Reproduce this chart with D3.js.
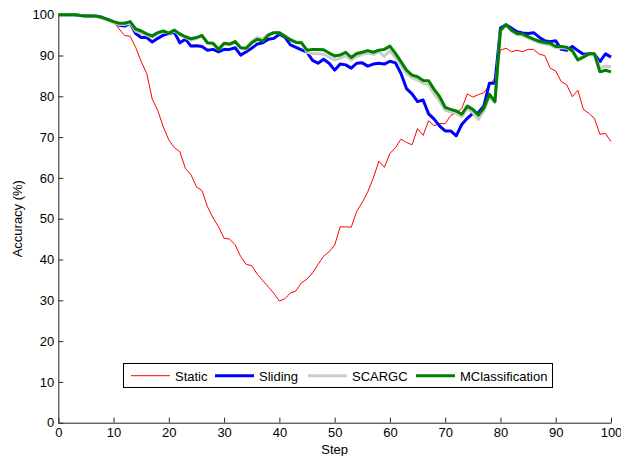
<!DOCTYPE html>
<html>
<head>
<meta charset="utf-8">
<script src="https://cdn.jsdelivr.net/npm/d3@7"></script>
<style>
  body { margin: 0; background: #fff; }
  svg { display: block; font-family: "Liberation Sans", Arial, Helvetica, sans-serif; }
  .axes path, .axes line { stroke: #262626; }
  .axes text { font-size: 13px; fill: #000; }
</style>
</head>
<body>
<svg width="621" height="456"></svg>
<script>
//canvas size
const SVG_WIDTH = 621;
const SVG_HEIGHT = 456;

//series names and colours, in drawing order
var names = ['Static', 'Sliding', 'SCARGC', 'MClassification'];
var colors = {'Static': '#ff0000', 'Sliding': '#0000ff', 'SCARGC': '#cdcdc5', 'MClassification': '#008000'};
var widths = {'Static': 1, 'Sliding': 3, 'SCARGC': 3, 'MClassification': 3};

//x values: steps 0..100
var steps = d3.range(0, 101);
var xTicks = [0, 10, 20, 30, 40, 50, 60, 70, 80, 90, 100];
var yTicks = [0, 10, 20, 30, 40, 50, 60, 70, 80, 90, 100];

//accuracy (%) per step
var staticAcc = [100, 100, 100, 100, 99.9, 99.8, 99.7, 99.6, 99.3, 98.8,
                 98.2, 96.5, 94.9, 94.7, 92.0, 88.5, 85.6, 79.3, 76.5, 72.5,
                 69.3, 67.4, 66.4, 62.3, 60.8, 57.8, 56.9, 52.9, 50.2, 48.0,
                 45.2, 45.0, 43.6, 40.7, 38.8, 38.5, 36.4, 34.8, 33.3, 31.7,
                 29.8, 30.4, 31.8, 32.3, 34.3, 35.2, 36.7, 38.8, 40.8, 41.9,
                 43.5, 48.0, 48.0, 47.9, 51.8, 54.0, 56.6, 60.0, 64.1, 62.6,
                 66.0, 67.4, 69.5, 68.7, 68.1, 72.1, 70.4, 74.0, 72.8, 73.3,
                 73.3, 75.3, 76.0, 77.0, 80.6, 79.8, 80.4, 80.9, 82.7, 84.4,
                 91.3, 91.8, 90.9, 91.3, 90.9, 91.5, 91.5, 90.3, 90.0, 86.9,
                 86.2, 83.6, 82.8, 79.9, 81.5, 76.8, 75.8, 74.6, 70.7, 70.9,
                 68.9];
var slidingAcc = [100, 100, 100, 100, 99.8, 99.7, 99.7, 99.6, 99.3, 98.8,
                  98.2, 97.4, 97.2, 97.9, 95.4, 94.4, 94.4, 93.3, 94.2, 95.0,
                  95.4, 95.7, 93.1, 94.0, 92.3, 92.4, 92.2, 91.3, 91.5, 90.9,
                  91.5, 91.5, 91.9, 90.1, 90.9, 91.8, 92.8, 93.1, 94.0, 94.2,
                  95.2, 94.5, 92.6, 92.0, 91.4, 90.8, 88.8, 88.1, 89.1, 88.1,
                  86.4, 87.9, 87.7, 86.9, 88.1, 88.2, 87.4, 87.9, 88.1, 87.9,
                  88.6, 88.2, 85.6, 81.9, 80.6, 78.7, 79.1, 75.7, 74.4, 72.7,
                  71.5, 71.5, 70.3, 73.1, 74.6, 75.8, 76.0, 77.6, 83.2, 83.2,
                  96.7, 97.5, 96.7, 95.8, 95.5, 95.4, 95.6, 94.5, 93.6, 93.4,
                  93.6, 91.5, 91.3, 92.2, 91.2, 90.3, 90.4, 90.3, 88.5, 90.4,
                  89.6];
var scargcAcc = [100, 100, 100, 100, 99.8, 99.7, 99.6, 99.5, 99.1, 98.6,
                 98.0, 97.6, 97.6, 98.0, 96.0, 95.5, 95.0, 94.5, 95.3, 95.8,
                 95.5, 96.0, 95.0, 94.4, 93.8, 94.2, 94.8, 93.0, 92.8, 91.5,
                 92.8, 92.6, 93.4, 91.8, 91.6, 93.5, 94.4, 94.0, 95.2, 95.6,
                 95.6, 94.8, 94.0, 93.4, 93.3, 90.8, 90.5, 90.4, 90.3, 89.6,
                 88.9, 89.3, 90.0, 88.9, 89.8, 90.3, 90.6, 90.3, 90.9, 89.8,
                 91.2, 89.5, 87.6, 85.6, 84.5, 84.0, 83.2, 82.8, 80.6, 78.8,
                 76.6, 76.2, 75.8, 75.0, 77.0, 76.0, 74.3, 76.5, 80.0, 78.5,
                 96.0, 97.4, 96.0, 95.1, 95.0, 94.3, 93.7, 93.1, 92.8, 92.6,
                 91.9, 91.9, 91.8, 91.0, 89.2, 89.8, 90.3, 90.2, 87.0, 87.4,
                 87.2];
var mclassAcc = [100, 100, 100, 100, 99.8, 99.7, 99.7, 99.6, 99.3, 98.8,
                 98.3, 97.9, 97.9, 98.3, 96.5, 96.0, 95.3, 94.8, 95.6, 96.0,
                 95.5, 96.2, 95.3, 94.6, 94.1, 94.4, 94.9, 93.1, 93.0, 91.5,
                 93.0, 92.8, 93.4, 91.9, 91.8, 93.1, 94.0, 93.5, 95.0, 95.6,
                 95.6, 94.7, 93.8, 93.2, 93.1, 91.3, 91.5, 91.5, 91.4, 90.6,
                 89.9, 90.1, 90.8, 89.5, 90.5, 90.8, 91.2, 90.8, 91.3, 91.5,
                 92.3, 90.5, 88.5, 86.4, 85.2, 84.8, 83.9, 83.8, 81.7, 79.9,
                 77.3, 76.8, 76.4, 75.6, 77.6, 76.8, 75.4, 77.1, 80.5, 78.7,
                 96.2, 97.6, 96.2, 95.4, 95.3, 94.6, 94.0, 93.5, 93.2, 93.0,
                 92.2, 92.2, 92.0, 91.2, 88.9, 89.6, 90.4, 90.4, 86.0, 86.4,
                 86.0];

var series = {'Static': staticAcc, 'Sliding': slidingAcc, 'SCARGC': scargcAcc, 'MClassification': mclassAcc};

var svg = d3.select('svg');

//scales; plot box
var x = d3.scaleLinear().domain([0, 100]).range([58.3, 611]);
var y = d3.scaleLinear().domain([0, 100]).range([422.7, 14.7]);

//axes, MATLAB style: ticks point inwards
svg.append('g')
   .attr('class', 'axes')
   .attr('transform', 'translate(0,' + y(0) + ')')
   .call(d3.axisBottom(x).tickValues(xTicks).tickSizeInner(-5).tickSizeOuter(0).tickPadding(5))
   .call(function(g) { g.selectAll('text').attr('font-family', null).attr('font-size', null); });

svg.append('g')
   .attr('class', 'axes')
   .attr('transform', 'translate(' + x(0) + ',0)')
   .call(d3.axisLeft(y).tickValues(yTicks).tickSizeInner(-5).tickSizeOuter(0).tickPadding(4))
   .call(function(g) { g.selectAll('text').attr('font-family', null).attr('font-size', null); });

//axis labels
svg.append('text')
   .attr('x', (x(0) + x(100)) / 2)
   .attr('y', 454)
   .attr('text-anchor', 'middle')
   .attr('font-size', 13)
   .text('Step');

svg.append('text')
   .attr('transform', 'translate(22,' + (y(0) + y(100)) / 2 + ') rotate(-90)')
   .attr('text-anchor', 'middle')
   .attr('font-size', 13)
   .text('Accuracy (%)');

//the lines
var line = d3.line()
             .x(function(d, i) { return x(steps[i]); })
             .y(function(d) { return y(d); });

svg.selectAll('path.series')
   .data(names)
   .enter()
   .append('path')
     .attr('class', 'series')
     .attr('d', function(d) { return line(series[d]); })
     .attr('fill', 'none')
     .attr('stroke', function(d) { return colors[d]; })
     .attr('stroke-width', function(d) { return widths[d]; })
     .attr('stroke-linejoin', 'round');

//legend box
var legendX = [131, 215, 308, 416];
var legend = svg.append('g');
legend.append('rect')
      .attr('x', 123.5).attr('y', 363.5)
      .attr('width', 429).attr('height', 24)
      .attr('fill', '#fff')
      .attr('stroke', '#000')
      .attr('stroke-width', 1);

var items = legend.selectAll('g.item')
                  .data(names)
                  .enter()
                  .append('g')
                  .attr('class', 'item')
                  .attr('transform', function(d, i) { return 'translate(' + legendX[i] + ',375.7)'; });

items.append('line')
     .attr('x1', 0).attr('x2', 39)
     .attr('stroke', function(d) { return colors[d]; })
     .attr('stroke-width', function(d) { return widths[d]; });

items.append('text')
     .attr('x', 44)
     .attr('y', 5.5)
     .attr('font-size', 13)
     .text(function(d) { return d; });
</script>
</body>
</html>
